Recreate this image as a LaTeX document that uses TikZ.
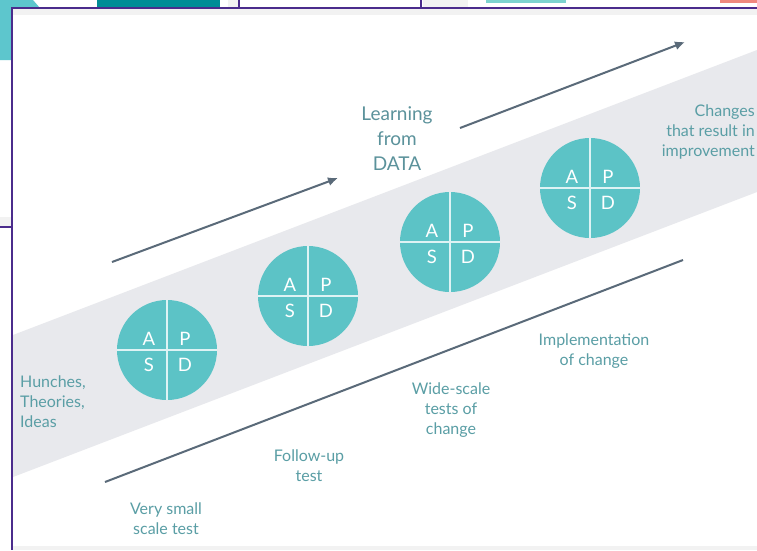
\documentclass[tikz,border=0pt]{standalone}
\usepackage{fontspec}
\setmainfont{Lato}
\usetikzlibrary{arrows.meta}
\definecolor{framepurple}{HTML}{4B2C8C}
\definecolor{bandgray}{HTML}{E8E9ED}
\definecolor{circteal}{HTML}{5CC3C6}
\definecolor{labelteal}{HTML}{5A9EA5}
\definecolor{learnteal}{HTML}{5B929B}
\definecolor{linegray}{HTML}{5A6A79}
\definecolor{topteal}{HTML}{5DC6CD}
\definecolor{darkteal}{HTML}{008C96}
\definecolor{paleteal}{HTML}{7DD3CF}
\definecolor{salmon}{HTML}{F0897E}
\definecolor{stripgray}{HTML}{F2F2F2}
\tikzset{
  pdsa/.style={circle, fill=circteal, minimum size=100pt, inner sep=0pt, draw=none},
  divider/.style={draw=white!80!circteal, line width=1.2pt},
  letter/.style={text=white, font=\fontsize{18.5}{18.5}\selectfont, inner sep=0pt},
  label/.style={text=labelteal, font=\fontsize{16}{20}\selectfont, align=center, inner sep=0pt},
  arrowline/.style={draw=linegray, line width=2pt, -{Latex[length=10pt,width=9pt]}},
  plainline/.style={draw=linegray, line width=2pt},
  framerule/.style={draw=framepurple, line width=2pt}
}
\begin{document}
\begin{tikzpicture}[x=1pt,y=-1pt]
\useasboundingbox (0,0) rectangle (757,550);
% background bits outside the frame
\fill[white] (0,0) rectangle (757,550);
\fill[topteal] (0,0) -- (33,0) -- (40,8) -- (12,8) -- (12,60) -- (0,60) -- cycle;
\fill[darkteal] (97,0) rectangle (220,8);
\fill[stripgray] (228,0) rectangle (238,8);
\draw[framerule] (239,0) -- (239,8);
\draw[framerule] (421,0) -- (421,8);
\fill[stripgray] (423,0) rectangle (468,8);
\fill[paleteal] (486,0) rectangle (566,2.5);
\fill[salmon] (720,0) rectangle (757,2.5);
\fill[stripgray] (0,217) rectangle (12,226);
\draw[framerule] (0,226.5) -- (12,226.5);
% frame interior
\fill[white] (12,8) rectangle (757,550);
\fill[stripgray] (12,8) rectangle (757,15);
\fill[stripgray] (12,546) rectangle (757,550);
% band
\fill[bandgray] (13,335) -- (757,50) -- (757,192) -- (13,477) -- cycle;
% frame rules
\draw[framerule] (11,8) -- (757,8);
\draw[framerule] (12,8) -- (12,550);
% arrows
\coordinate (a1s) at (112,262);
\coordinate (a1e) at (338,178);
\coordinate (a2s) at (460,128);
\coordinate (a2e) at (685,42);
\coordinate (ls) at (105,482);
\coordinate (le) at (683,260);
\draw[arrowline] (a1s) -- (a1e);
\draw[arrowline] (a2s) -- (a2e);
\draw[plainline] (ls) -- (le);
% PDSA circles
\foreach \i/\x/\y in {1/167/350, 2/308/296, 3/450/242, 4/590/188} {
  \node[pdsa] (c\i) at (\x,\y) {};
  \draw[divider] (c\i.north) -- (c\i.south);
  \draw[divider] (c\i.west) -- (c\i.east);
  \node[letter] (a\i) at ([shift={(-18,-11)}]c\i.center) {A};
  \node[letter] (p\i) at ([shift={(18,-11)}]c\i.center) {P};
  \node[letter] (s\i) at ([shift={(-18,15)}]c\i.center) {S};
  \node[letter] (d\i) at ([shift={(18,15)}]c\i.center) {D};
}
% labels
\node[label, text=learnteal, font=\fontsize{19}{25}\selectfont] (learn) at (397,139) {Learning\\from\\DATA};
\node[label, align=right, anchor=east] (changes) at (755,132) {Changes\\that result in\\improvement};
\node[label, align=left, anchor=west] (hunches) at (20,402) {Hunches,\\Theories,\\Ideas};
\node[label] (vsmall) at (166,519) {Very small\\scale test};
\node[label] (followup) at (309,466) {Follow-up\\test};
\node[label] (widescale) at (451,410) {Wide-scale\\tests of\\change};
\node[label] (implement) at (594,351) {Implementation\\of change};
\end{tikzpicture}
\end{document}
